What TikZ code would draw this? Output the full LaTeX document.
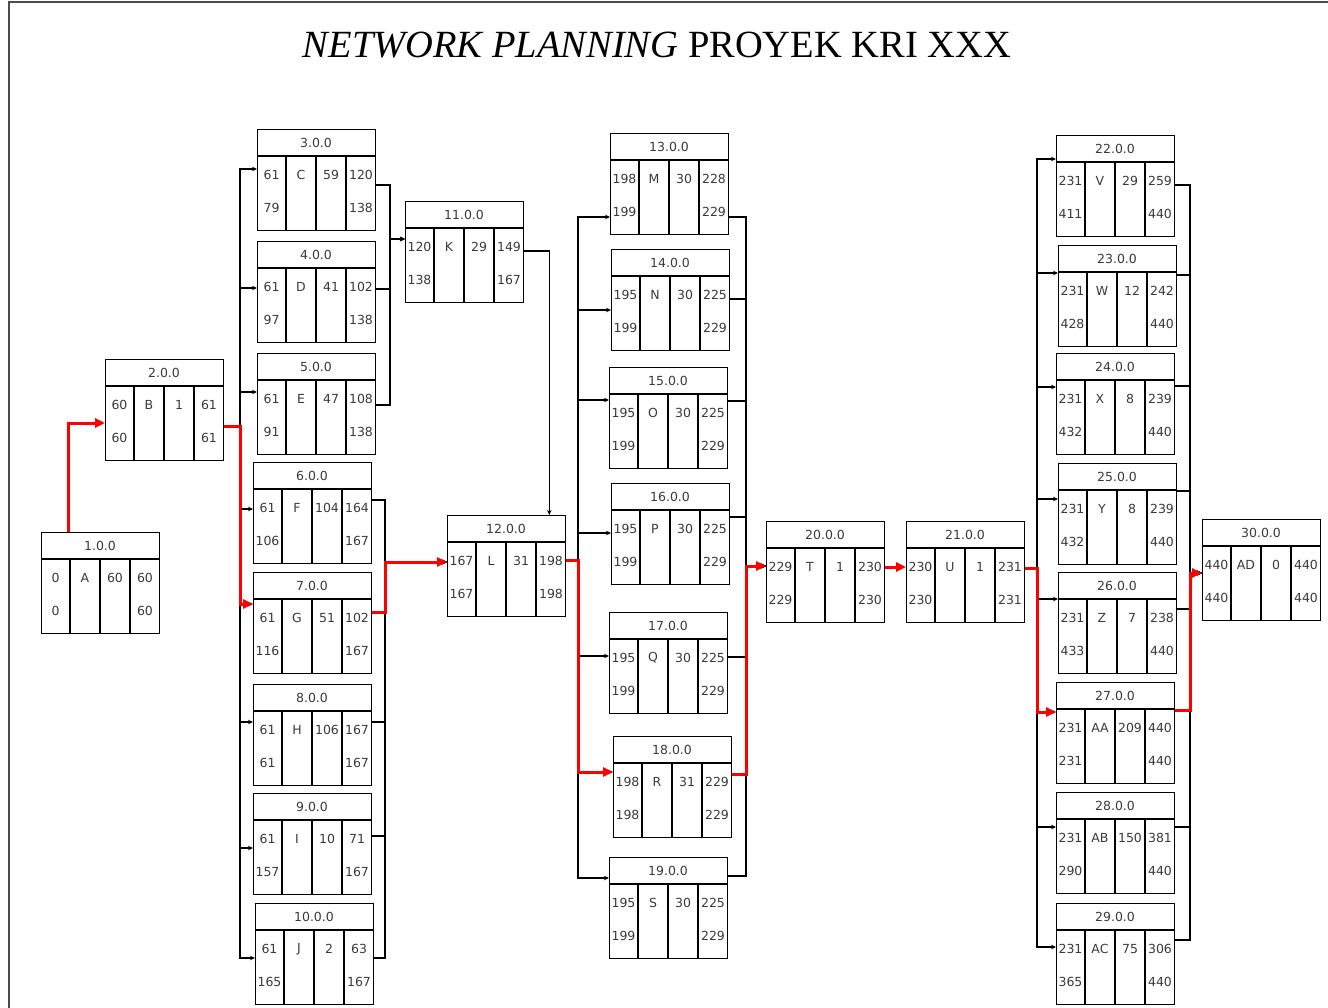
\documentclass[tikz,border=0pt]{standalone}
\usepackage{fontspec}
\setmainfont{Liberation Serif}
\newfontfamily\boxfont{DejaVu Sans}
\usepackage{xcolor}
\usetikzlibrary{arrows.meta,calc}
\definecolor{NetRed}{HTML}{FF0000}
\definecolor{NetInk}{HTML}{3A3A3A}
\tikzset{
  actbox/.style={draw=black,line width=1.3pt,minimum width=118pt,minimum height=101pt,inner sep=0pt,anchor=north west},
  cellline/.style={line width=1.3pt,draw=black},
  celltext/.style={font=\boxfont\fontsize{12.5}{14}\selectfont,text=NetInk,inner sep=0pt},
  link/.style={-{Stealth[length=5pt,width=4.5pt]},line width=1.1pt,draw=black},
  crit/.style={-{Triangle[length=10pt,width=9pt]},line width=3pt,draw=NetRed}
}

\begin{document}
\begin{tikzpicture}[x=1pt,y=-1pt]
\useasboundingbox (0,0) rectangle (1328,1008);
% page frame and title
\draw[line width=2pt,draw=black!70] (9,1008) -- (9,2) -- (1328,2);
\node[anchor=base,font=\fontsize{38.5}{42}\selectfont] (title) at (657,58)
  {\textit{NETWORK PLANNING} PROYEK KRI XXX};

% activity boxes: id/x/y/ES/act/dur/EF/LS/LF/y-in/y-out
\foreach \i/\x/\y/\es/\ac/\du/\ef/\ls/\lf/\yi/\yo in {
  1/41/532/0/A/60/60/0/60/582/582,
  2/105/359/60/B/1/61/60/61/423/426,
  3/257/129/61/C/59/120/79/138/169/185,
  4/257/241/61/D/41/102/97/138/288/289,
  5/257/353/61/E/47/108/91/138/392/405,
  6/253/462/61/F/104/164/106/167/509/500,
  7/253/572/61/G/51/102/116/167/604/612,
  8/253/684/61/H/106/167/61/167/722/722,
  9/253/793/61/I/10/71/157/167/848/836,
  10/255/903/61/J/2/63/165/167/958/958,
  11/405/201/120/K/29/149/138/167/239/251,
  12/447/515/167/L/31/198/167/198/562/560,
  13/610/133/198/M/30/228/199/229/217/217,
  14/611/249/195/N/30/225/199/229/310/299,
  15/609/367/195/O/30/225/199/229/400/401,
  16/611/483/195/P/30/225/199/229/533/517,
  17/609/612/195/Q/30/225/199/229/656/657,
  18/613/736/198/R/31/229/198/229/772/774,
  19/609/857/195/S/30/225/199/229/878/876,
  20/766/521/229/T/1/230/229/230/566/567,
  21/906/521/230/U/1/231/230/231/567/568,
  22/1056/135/231/V/29/259/411/440/159/185,
  23/1058/245/231/W/12/242/428/440/273/275,
  24/1056/353/231/X/8/239/432/440/387/386,
  25/1058/463/231/Y/8/239/432/440/499/491,
  26/1058/572/231/Z/7/238/433/440/599/609,
  27/1056/682/231/AA/209/440/231/440/712/710,
  28/1056/792/231/AB/150/381/290/440/827/827,
  29/1056/903/231/AC/75/306/365/440/947/940,
  30/1202/519/440/AD/0/440/440/440/573/573}{
  \node[actbox] (n\i) at (\x,\y) {};
  \draw[cellline] (n\i.north west) ++(0,27) -- ++(118,0);
  \foreach \col in {29,59,89}
    \draw[cellline] ([xshift=\col pt]n\i.north west) ++(0,27) -- ++(0,74);
  \node[celltext] at ([shift={(59,14)}]n\i.north west) {\i.0.0};
  \node[celltext] at ([shift={(14.5,46)}]n\i.north west) {\es};
  \node[celltext] at ([shift={(44,46)}]n\i.north west) {\ac};
  \node[celltext] at ([shift={(74,46)}]n\i.north west) {\du};
  \node[celltext] at ([shift={(104,46)}]n\i.north west) {\ef};
  \node[celltext] at ([shift={(14.5,79)}]n\i.north west) {\ls};
  \node[celltext] at ([shift={(104,79)}]n\i.north west) {\lf};
  \coordinate (n\i-in) at (n\i.west |- 0,\yi);
  \coordinate (n\i-out) at (n\i.east |- 0,\yo);
}

% vertical buses
\coordinate (b2) at (240,0);
\coordinate (b11) at (390,0);
\coordinate (b12) at (385,0);
\coordinate (b13) at (578,0);
\coordinate (b20) at (746,0);
\coordinate (b22) at (1037,0);
\coordinate (b30) at (1190,0);

% ordinary dependencies
\foreach \k in {3,...,10}
  \draw[link] (n2-out) -- (b2 |- n2-out) |- (n\k-in);
\foreach \k in {3,4,5}
  \draw[link] (n\k-out) -- (b11 |- n\k-out) |- (n11-in);
\draw[link] (n11-out) -| ([xshift=-17pt]n12.north east);
\foreach \k in {6,...,10}
  \draw[link] (n\k-out) -- (b12 |- n\k-out) |- (n12-in);
\foreach \k in {13,...,19}
  \draw[link] (n12-out) -- (b13 |- n12-out) |- (n\k-in);
\foreach \k in {13,...,19}
  \draw[link] (n\k-out) -- (b20 |- n\k-out) |- (n20-in);
\foreach \k in {22,...,29}
  \draw[link] (n21-out) -- (b22 |- n21-out) |- (n\k-in);
\foreach \k in {22,...,29}
  \draw[link] (n\k-out) -- (b30 |- n\k-out) |- (n30-in);

% critical path
\draw[crit] ([xshift=27pt]n1.north west) |- (n2-in);
\draw[crit] (n2-out) -- (b2 |- n2-out) |- (n7-in);
\draw[crit] (n7-out) -- (b12 |- n7-out) |- (n12-in);
\draw[crit] (n12-out) -- (b13 |- n12-out) |- (n18-in);
\draw[crit] (n18-out) -- (b20 |- n18-out) |- (n20-in);
\draw[crit] (n20-out) -- (n21-in);
\draw[crit] (n21-out) -- (b22 |- n21-out) |- (n27-in);
\draw[crit] (n27-out) -- (b30 |- n27-out) |- (n30-in);
\end{tikzpicture}
\end{document}
